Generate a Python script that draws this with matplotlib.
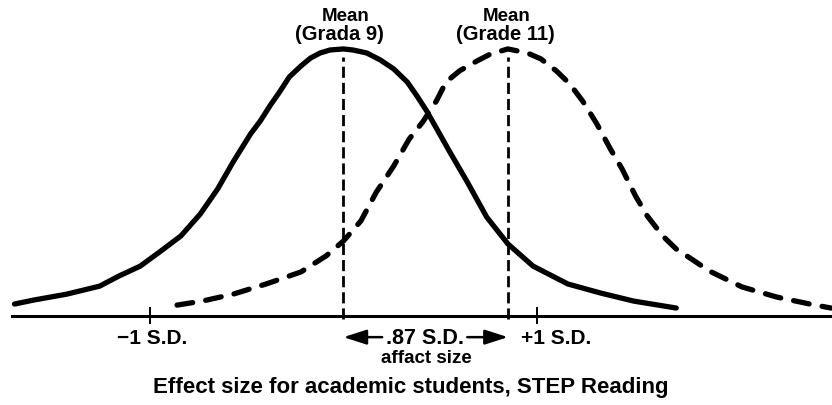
import matplotlib
matplotlib.use('Agg')
import matplotlib.pyplot as plt

# ── DATA (x in S.D. units from the Grade 9 mean, y = relative height) ──
grade9_x = [-1.70, -1.60, -1.43, -1.26, -1.16, -1.05, -0.95, -0.84, -0.74,
            -0.65, -0.57, -0.48, -0.43, -0.38, -0.33, -0.28, -0.22, -0.17,
            -0.12, -0.07, 0.00, 0.05, 0.12, 0.19, 0.26, 0.33, 0.38, 0.43,
            0.55, 0.64, 0.74, 0.85, 0.98, 1.16, 1.33, 1.50, 1.72]
grade9_y = [0.045, 0.060, 0.082, 0.112, 0.150, 0.187, 0.240, 0.300, 0.382,
            0.476, 0.577, 0.682, 0.730, 0.787, 0.839, 0.895, 0.936, 0.966,
            0.985, 0.996, 1.000, 0.996, 0.985, 0.959, 0.925, 0.876, 0.824,
            0.768, 0.614, 0.502, 0.371, 0.270, 0.187, 0.120, 0.086, 0.056,
            0.030]

grade11_x = [-0.86, -0.73, -0.57, -0.40, -0.22, -0.09, 0.00, 0.09, 0.17,
             0.26, 0.34, 0.41, 0.48, 0.53, 0.60, 0.69, 0.76, 0.85, 0.95,
             1.02, 1.10, 1.17, 1.24, 1.31, 1.38, 1.44, 1.51, 1.57, 1.65,
             1.72, 1.80, 1.89, 2.06, 2.24, 2.41, 2.52]
grade11_y = [0.041, 0.056, 0.082, 0.120, 0.165, 0.225, 0.281, 0.356, 0.464,
             0.562, 0.663, 0.727, 0.805, 0.876, 0.918, 0.955, 0.981, 1.000,
             0.985, 0.963, 0.918, 0.869, 0.801, 0.719, 0.625, 0.551, 0.449,
             0.375, 0.300, 0.251, 0.213, 0.169, 0.109, 0.071, 0.045, 0.030]

mean_grade9  = 0.00
mean_grade11 = 0.85      # position in the picture
effect_label = '.87 S.D.'
sd_ticks     = [-1, 1]
sd_labels    = ['\u22121 S.D.', '+1 S.D.']

# ── FIGURE ──────────────────────────────────────────────
plt.rcParams['font.family'] = ['Liberation Sans', 'DejaVu Sans']
plt.rcParams['font.weight'] = 'bold'

fig = plt.figure(figsize=(8.32, 4.06), dpi=100)
ax = fig.add_axes([0, 0, 1, 1])
ax.set_xlim(-1.775, 2.525)
ax.set_ylim(-0.333, 1.187)
ax.axis('off')

# baseline
ax.axhline(0, xmin=0.0144, xmax=1, color='black', linewidth=2.2)

# ── CURVES ──────────────────────────────────────────────
ax.plot(grade9_x, grade9_y, color='black', linewidth=3.8,
        solid_capstyle='round', solid_joinstyle='round')
ax.plot(grade11_x, grade11_y, color='black', linewidth=3.8,
        linestyle=(0, (3.0, 2.5)), dash_capstyle='round',
        dash_joinstyle='round')

# mean lines
for m in [mean_grade9, mean_grade11]:
    ax.plot([m, m], [-0.011, 0.97], color='black', linewidth=2.0,
            linestyle=(0, (4, 1.8)))

# ±1 S.D. ticks
for t in sd_ticks:
    ax.plot([t, t], [-0.026, 0.030], color='black', linewidth=1.4)
ax.text(-0.99, -0.079, sd_labels[0], ha='center', va='center', fontsize=15)
ax.text(1.10, -0.079, sd_labels[1], ha='center', va='center', fontsize=15)

# ── LABELS ──────────────────────────────────────────────
ax.text(0.01, 1.127, 'Mean', ha='center', va='center', fontsize=13.5)
ax.text(-0.02, 1.056, '(Grada 9)', ha='center', va='center', fontsize=14.5)
ax.text(0.845, 1.127, 'Mean', ha='center', va='center', fontsize=13.5)
ax.text(0.835, 1.056, '(Grade 11)', ha='center', va='center', fontsize=14.5)

# effect size arrow
ax.text(0.42, -0.079, effect_label, ha='center', va='center', fontsize=15.5)
ax.text(0.43, -0.154, 'affact size', ha='center', va='center', fontsize=13.5)
arrow = dict(arrowstyle='-|>,head_length=1.4,head_width=0.45', lw=1.8,
             color='black', shrinkA=0, shrinkB=0)
ax.annotate('', xy=(mean_grade9, -0.079), xytext=(0.20, -0.079),
            arrowprops=arrow)
ax.annotate('', xy=(mean_grade11, -0.079), xytext=(0.64, -0.079),
            arrowprops=arrow)

ax.text(0.35, -0.262, 'Effect size for academic students, STEP Reading',
        ha='center', va='center', fontsize=16)

fig.savefig('out.png', dpi=100)
